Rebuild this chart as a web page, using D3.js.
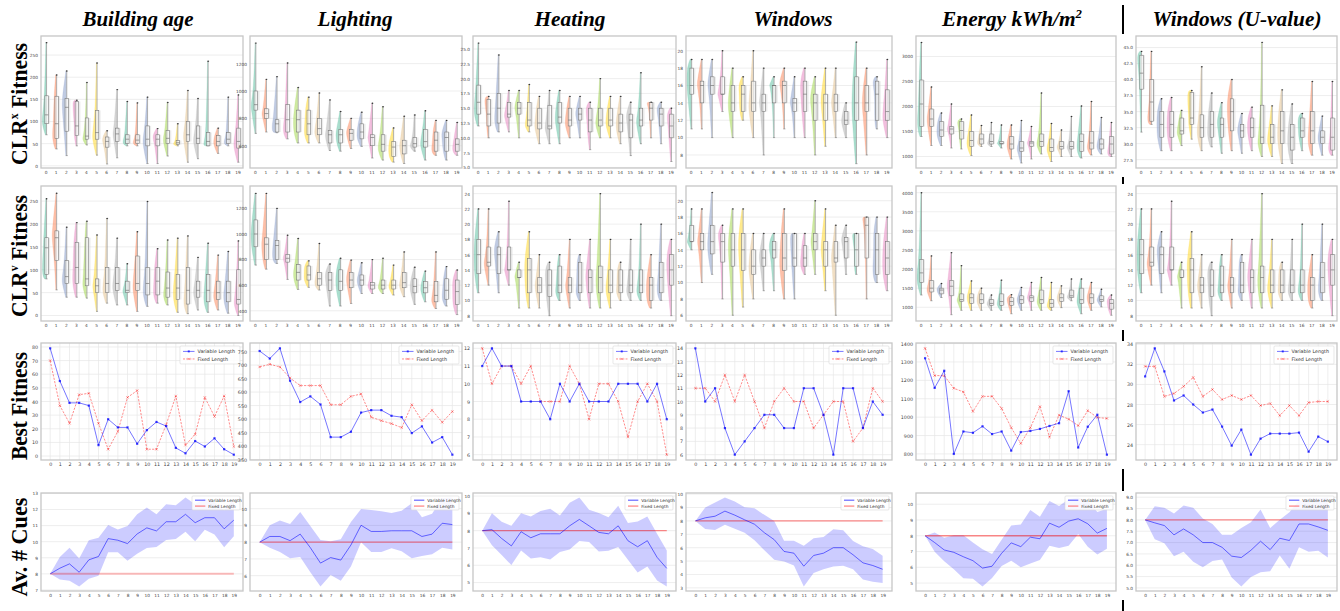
<!DOCTYPE html>
<html>
<head>
<meta charset="utf-8">
<script src="https://cdn.jsdelivr.net/npm/d3@7"></script>
<style>
  body { margin: 0; background: #fff; overflow: hidden; }
  .row-title { font-family: "Liberation Serif", "Times New Roman", serif; font-weight: bold; font-size: 24px; }
  .col-title { font-family: "Liberation Serif", "Times New Roman", serif; font-weight: bold; font-style: italic; font-size: 20px; }
  .tk text { font-family: "DejaVu Sans", sans-serif; fill: #444; }
  .leg { font-family: "DejaVu Sans", sans-serif; fill: #333; }
</style>
</head>
<body>
<svg width="1340" height="611"></svg>
<script>
// generations 0..19
const cats = [0,1,2,3,4,5,6,7,8,9,10,11,12,13,14,15,16,17,18,19];

// violin rows: per generation [low whisker, q1, median, q3, high whisker]
const ageX = [[70,95,115,158,278],[38,62,95,157,205],[23,78,132,152,214],[45,68,90,145,148],[47,60,67,108,188],
  [24,60,75,125,232],[4,42,55,65,79],[18,55,72,85,172],[45,50,60,70,145],[45,50,58,70,142],
  [5,45,60,90,155],[5,45,60,70,84],[22,50,62,80,143],[45,48,52,57,95],[8,55,70,100,170],
  [16,50,62,90,152],[45,45,55,75,236],[28,45,55,68,85],[45,50,60,75,155],[8,40,55,85,160]];
const lightX = [[690,860,900,1000,1350],[700,800,835,870,1085],[695,700,760,790,1105],[650,700,790,900,1205],[620,700,790,860,1025],
  [620,680,760,860,955],[620,680,725,800,985],[565,620,680,710,935],[560,620,680,720,850],[580,640,690,720,800],
  [595,650,700,760,845],[510,600,660,680,910],[495,560,610,680,885],[480,520,590,630,730],[470,540,600,640,815],
  [560,590,615,660,825],[495,590,630,720,855],[530,560,640,700,785],[495,560,660,700,785],[530,560,610,650,770]];
const heatX = [[12,14,16,18.9,26],[10,12,14,16.5,17],[11,12.5,15,17.5,24],[11,13.5,14,16,18],[10,14,15,16,18],
  [11,12,13,16,19],[9,11.5,12.5,15,17],[9,11.5,12,15.5,18],[9,12.5,13.5,16,18],[10,12,13,15,17],
  [10,13,14,15,17],[8,11,13,15,16],[10,12,13,15,20],[10,12,13,15,17],[9,11,12.5,14,17],
  [7,10,13,14,16],[9,12,13,15,21],[10,13,15,16,16],[9,12,14,15,16],[6,10,12,14,15]];
const winX = [[11,15,16,18,19],[11,14,16,16.5,19],[10,15,16,17,19],[13,15,15,17,20],[10,13,14,16,18],
  [12,13,15,16,17],[10,13,14,16.5,20],[8,13,14,15,18],[10,14,16,16,17],[11,14,16,16.5,18],
  [10,13,14,14.5,17],[10,13,15,16.5,18],[8,12,14,15,17],[9,12,14,15,18],[10,13,14,15,18],
  [10,11.5,12,13,14],[7,12,14,17,21],[8,13,14,16,18],[11,12,15,16.5,17],[10,12,13,15.5,19]];
const energyX = [[1400,1600,2050,2530,3280],[1220,1600,1750,1950,2390],[1220,1400,1530,1700,1870],[1170,1450,1550,1600,2050],[1150,1350,1520,1700,1750],
  [1020,1200,1320,1500,1830],[1200,1250,1350,1450,1620],[1200,1250,1300,1450,1680],[1170,1250,1260,1300,1630],[950,1150,1250,1400,1630],
  [870,1100,1170,1300,1720],[950,1200,1270,1300,1600],[1050,1200,1300,1450,2270],[900,1100,1180,1350,1660],[1000,1150,1200,1300,1530],
  [1000,1150,1200,1300,1800],[970,1100,1300,1450,2010],[1030,1150,1270,1500,2100],[1050,1150,1250,1350,1780],[1000,1050,1250,1400,1680]];
const uvalX = [[31.8,38.5,41,43.8,44.4],[33,33.5,36.5,40,44.4],[28.9,31,33,35,37],[28.9,31,33,35,37.2],[29.7,31.5,32,34,35.2],
  [30.7,33,34,38,38.3],[28.9,31,32.5,34.5,42],[29.5,31,33,35,37.9],[28.5,31,33,34,36.4],[28.9,32,35,37,40],
  [28.5,31,32,33,34.7],[28.9,31,32.5,34,35.7],[28,30,31,36,45.8],[28,30,31,33,35.9],[26.9,30,32,35,38.4],
  [26.9,29,31,33,36.2],[28.9,31,32,34,34.7],[28.2,30,32,35,39.7],[28.2,30,31,32,34.3],[28.2,29,31,34,39.7]];

const ageV = [[80,90,148,170,255],[56,120,170,185,267],[40,70,85,120,193],[40,70,105,160,203],[38,65,80,170,206],
  [9,50,65,80,176],[27,50,70,105,212],[23,55,70,105,169],[23,50,55,75,113],[9,55,70,130,183],
  [20,45,70,105,249],[27,45,75,105,146],[23,40,60,95,165],[7,35,60,90,169],[4,25,55,105,174],
  [12,40,55,75,127],[7,30,55,90,158],[12,35,50,75,132],[5,30,50,75,140],[0,25,35,100,163]];
const lightV = [[757,900,1000,1110,1317],[725,800,920,970,1317],[770,800,910,950,1200],[645,780,810,840,990],[567,640,700,760,965],
  [583,640,680,750,790],[562,600,650,700,926],[437,560,640,700,765],[437,560,630,720,810],[457,580,640,700,796],
  [535,600,640,680,775],[535,570,600,620,800],[535,570,600,640,810],[523,570,600,640,757],[510,580,620,700,860],
  [450,540,590,650,740],[470,540,580,630,710],[418,470,520,630,860],[437,490,560,650,745],[370,450,550,640,718]];
const heatV = [[11,13.5,16,18,22],[12,14.5,15,17,22],[11,13.5,16,17,19],[12,14,14,17,23],[9,13,13,14,15],
  [9,11,14,15.5,19],[9,11,12,13,16],[8,10.5,12,14,15],[10,11,12,14.5,16],[9,11,12,13,18],
  [10,11,12,15,16],[9,11,13,14,18],[9,11,13,14.5,24],[9,11,12,14,18],[10,11,12,14,15],
  [10,11,12,14,18],[10,11,12,14,20],[9,10,12,13,16],[10,11,13,15,20],[8,12,14,16,18]];
const winV = [[14,15,15,17,19],[10,14,15,16,19],[11,13.5,15,17,21],[8,12.5,15,16,17],[6,12,14,16,19],
  [7,11.5,14,16,19],[8,11,12,14,16],[9,12,13,14,16],[9,13,14,15,16],[8,11.5,13,16,19],
  [8,12,13,16,16],[11,12,13,14.5,16],[11,14,15,16,20],[9,12,14,15,19],[6,12.5,13,15,17],
  [11,13,15,15.5,17],[11,12,14,16,16],[8,13,17,18,18],[10,11,14,16,18],[9,11,13,15,18]];
const energyV = [[1320,1650,1900,2250,4000],[1170,1400,1500,1700,2345],[1255,1350,1450,1500,1620],[805,1300,1550,1700,2430],[920,1150,1200,1350,2090],
  [920,1100,1250,1350,1690],[920,1100,1200,1350,1500],[920,1050,1100,1200,1320],[920,1050,1150,1350,1710],[830,1050,1150,1250,1330],
  [920,1100,1200,1300,1520],[920,1150,1250,1300,1650],[920,1100,1200,1450,1780],[920,1000,1100,1200,1650],[990,1150,1250,1350,1560],
  [1170,1250,1300,1450,1740],[830,1100,1200,1500,1740],[920,1100,1250,1350,1650],[1010,1150,1200,1300,1470],[790,950,1100,1200,1320]];
// the source figure repeats the heating panel here
const uvalV = heatV;

// best fitness per generation
const ageBestVar = [79,55,39,39,37,8,27,21,21,9,19,25,22,6,2,11,7,13,5,1];
const ageBestFix = [70,37,24,45,46,24,5,18,43,48,5,5,23,44,8,16,43,29,44,7];
const lightBestVar = [752,724,762,642,563,584,554,433,433,453,524,533,533,512,507,448,473,413,433,368];
const lightBestFix = [693,703,693,652,624,624,624,553,553,584,593,507,494,483,468,553,494,533,488,528];
const heatBestVar = [11,12,11,11,9,9,9,8,10,9,10,9,9,9,10,10,10,9,10,8];
const heatBestFix = [12,10,11,11,10,11,9,9,9,11,10,8,10,10,9,7,9,10,9,6];
const winBestVar = [14,10,11,8,6,7,8,9,9,8,8,11,11,9,6,11,11,8,10,9];
const winBestFix = [11,11,10,12,10,12,10,8,10,11,10,10,8,9,10,10,7,8,11,10];
const energyBestVar = [1320,1159,1252,800,922,915,950,908,922,818,919,925,936,952,967,1141,835,948,1013,796];
const energyBestFix = [1374,1226,1225,1157,1137,1031,1113,1113,1047,943,857,943,1057,892,1011,989,954,1035,998,993];
const uvalBestVar = [30.8,33.6,31.3,28.4,28.9,28.0,27.2,27.5,25.8,23.9,25.5,23.0,24.6,25.1,25.1,25.1,25.2,23.3,24.8,24.3];
const uvalBestFix = [31.8,31.8,28.8,29.1,29.8,30.7,28.8,29.5,28.5,28.9,28.5,28.9,27.9,28.1,26.9,27.9,26.9,28.2,28.3,28.3];

// average number of cues: mean and band (low / high) for variable length
const ageCueMean = [8.0,8.35,8.62,8.1,8.87,9.08,10.19,10.09,9.88,10.48,10.86,10.67,11.24,11.24,11.7,11.18,11.49,11.49,10.8,11.34];
const ageCueLo = [8.0,7.65,7.57,7.21,7.7,7.88,9.35,9.35,8.81,9.25,9.6,9.67,10.11,10.17,10.61,10.02,10.74,10.44,9.65,10.34];
const ageCueHi = [8.0,9.04,9.62,8.95,10.09,10.25,11.03,10.76,10.97,11.7,12.12,11.7,12.33,12.27,12.75,12.33,12.69,12.43,11.95,12.64];
const lightCueMean = [8.0,8.34,8.34,8.09,8.48,7.67,6.75,7.08,6.93,7.83,9.01,8.64,8.64,8.68,8.68,8.68,8.34,8.48,9.13,9.05];
const lightCueLo = [8.0,7.67,7.42,7.04,7.12,6.2,5.35,6.04,5.7,6.55,8.0,7.42,7.42,7.64,7.46,7.04,7.18,7.28,7.67,7.56];
const lightCueHi = [8.0,9.01,9.29,9.09,9.8,8.96,8.13,8.05,8.17,9.21,9.98,9.92,9.84,9.74,9.88,10.32,9.49,9.7,10.63,10.67];
const heatCueMean = [8.0,8.06,7.55,7.12,7.94,7.59,7.82,7.82,7.82,8.28,8.65,8.28,7.9,7.82,8.28,7.42,7.07,7.42,6.46,5.82];
const heatCueLo = [8.0,7.15,6.59,6.01,6.85,6.39,6.46,6.34,6.76,6.91,7.4,7.34,6.8,6.84,7.05,6.32,5.58,5.93,5.12,4.77];
const heatCueHi = [8.0,9.0,8.52,8.28,9.0,8.82,9.13,9.27,8.88,9.61,9.92,9.21,9.02,8.78,9.44,8.44,8.53,8.82,7.82,6.85];
const winCueMean = [8.0,8.23,8.35,8.73,8.43,8.08,7.75,7.12,6.6,5.72,5.59,4.62,5.42,5.59,6.0,6.0,5.47,4.87,4.67,4.39];
const winCueLo = [8.0,7.4,7.32,7.72,7.42,7.12,6.55,5.8,5.1,4.97,4.67,3.1,4.12,4.4,4.6,4.65,4.4,3.62,3.45,3.37];
const winCueHi = [8.0,9.0,9.37,9.75,9.45,9.02,8.95,8.45,8.0,6.52,6.52,6.15,6.7,6.8,7.37,7.3,6.5,6.1,5.9,5.4];
const energyCueMean = [8.0,7.57,7.1,6.95,6.67,6.42,5.95,6.07,6.89,7.55,7.31,7.91,7.81,8.8,8.54,8.93,9.08,8.76,8.17,8.47];
const energyCueLo = [8.0,6.99,6.39,5.88,5.3,5.28,4.78,5.32,6.09,6.42,6.01,6.24,6.46,7.36,7.23,7.36,8.11,7.31,6.82,7.18];
const energyCueHi = [8.0,8.21,7.87,8.04,8.04,7.57,7.14,6.84,7.74,8.65,8.71,9.64,9.21,10.21,9.89,10.32,10.43,10.21,9.51,9.72];
const uvalCueMean = [8.0,7.87,7.75,7.34,7.6,7.34,7.0,7.0,6.79,6.4,6.34,6.66,7.06,6.69,7.19,7.09,7.82,7.82,7.69,7.54];
const uvalCueLo = [8.0,7.15,6.97,6.4,6.6,6.15,5.91,6.19,6.25,5.46,5.06,5.48,5.69,5.73,6.43,5.85,6.79,6.6,6.64,6.34];
const uvalCueHi = [8.0,8.6,8.54,8.28,8.64,8.54,8.06,7.82,7.34,7.34,7.64,7.9,8.46,7.64,8.01,8.34,8.84,8.94,8.94,8.99];
const fixedCues = [8,8,8,8,8,8,8,8,8,8,8,8,8,8,8,8,8,8,8,8];

// tick labels
const ageTicks = [0,50,100,150,200,250];
const lightXTicks = [600,800,1000,1200];
const lightVTicks = [400,600,800,1000,1200];
const heatXTicks = [5,7.5,10,12.5,15,17.5,20,22.5,25];
const heatVTicks = [8,10,12,14,16,18,20,22,24];
const winXTicks = [8,10,12,14,16,18,20];
const winVTicks = [6,8,10,12,14,16,18,20];
const energyXTicks = [1000,1500,2000,2500,3000];
const energyVTicks = [1000,1500,2000,2500,3000,3500,4000];
const uvalXTicks = [27.5,30,32.5,35,37.5,40,42.5,45];

const columnTitles = ["Building age", "Lighting", "Heating", "Windows", "Energy kWh/m", "Windows (U-value)"];
const rowTitles = ["CLR", "CLR", "Best Fitness", "Av. # Cues"];
const legendNames = ["Variable Length", "Fixed Length"];

const set2 = ["#66c2a5","#fc8d62","#8da0cb","#e78ac3","#a6d854","#ffd92f","#e5c494","#b3b3b3"];

const svg = d3.select("svg");
const colX = [[41,243],[250,462],[473,676],[686,892],[916,1116],[1136,1337]];
const rowY = [[36,168],[186,321],[343,460],[493,591]];
const f0 = d3.format("d"), f1 = d3.format(".1f");

svg.append("rect").attr("width",1340).attr("height",611).attr("fill","#fff");
svg.append("line").attr("x1",1123).attr("x2",1123).attr("y1",5).attr("y2",611)
  .attr("stroke","#000").attr("stroke-width",2);

let clipId = 0;
function panel(col, row) {
  const [x0,x1] = colX[col], [y0,y1] = rowY[row];
  const g = svg.append("g");
  // each sub-figure sits on its own white canvas (hides the divider behind it)
  if (col === 5) g.append("rect").attr("x",1122).attr("y",y0-2).attr("width",1340-1122).attr("height",y1-y0+11).attr("fill","#fff");
  g.append("rect").attr("x",x0).attr("y",y0).attr("width",x1-x0).attr("height",y1-y0).attr("fill","#fff");
  const id = "clip" + (clipId++);
  g.append("clipPath").attr("id",id).append("rect")
    .attr("x",x0).attr("y",y0).attr("width",x1-x0).attr("height",y1-y0);
  const inner = g.append("g").attr("clip-path",`url(#${id})`);
  return {g, inner, x0, x1, y0, y1};
}
function frame(p) {
  p.g.append("rect").attr("x",p.x0).attr("y",p.y0).attr("width",p.x1-p.x0).attr("height",p.y1-p.y0)
    .attr("fill","none").attr("stroke","#c6c6c6").attr("stroke-width",1.3);
}
function axes(p, x, y, ticks, fmt, fs) {
  p.g.append("g").attr("class","tk").attr("transform",`translate(${p.x0},0)`)
    .call(d3.axisLeft(y).tickValues(ticks).tickFormat(fmt).tickSize(0).tickPadding(3))
    .call(a => a.select(".domain").remove())
    .selectAll("text").attr("font-size",fs);
  p.g.append("g").attr("class","tk").attr("transform",`translate(0,${p.y1})`)
    .call(d3.axisBottom(x).tickValues(cats).tickFormat(f0).tickSize(0).tickPadding(3))
    .call(a => a.select(".domain").remove())
    .selectAll("text").attr("font-size",fs);
}
function hgrid(p, y, ticks) {
  p.inner.selectAll(null).data(ticks).join("line")
    .attr("x1",p.x0).attr("x2",p.x1).attr("y1",d=>y(d)).attr("y2",d=>y(d))
    .attr("stroke","#e6e6e6").attr("stroke-width",0.7);
}

// half-violin outline from the five summary values
function violinNodes(s) {
  const [lo,q1,md,q3,hi] = s;
  const span = Math.max(hi - lo, 1e-9);
  const g = v => 1 / Math.max(v, span * 0.07);
  const d = [g(q1-lo), g(md-q1), g(q3-md), g(hi-q3)];
  const w = [d[0]*0.2, (d[0]+d[1])/2, (d[1]+d[2])/2, (d[2]+d[3])/2, d[3]*0.2];
  const m = d3.max(w);
  return s.map((v,i) => ({v, w: w[i]/m}));
}

function violinPanel(col, row, data, ticks, domain, fmt) {
  const p = panel(col, row);
  const x = d3.scaleBand().domain(cats).range([p.x0,p.x1]).padding(0);
  const y = d3.scaleLinear().domain(domain).range([p.y1,p.y0]);
  hgrid(p, y, ticks);
  const bw = x.bandwidth();
  data.forEach((s,i) => {
    const cx = x(i) + bw/2;
    const c = set2[i % 8];
    const area = d3.area().y(d => y(d.v)).x0(cx).x1(d => cx - d.w*bw*0.42).curve(d3.curveBasis);
    p.inner.append("path").attr("d", area(violinNodes(s)))
      .attr("fill", c).attr("fill-opacity",0.55).attr("stroke", c).attr("stroke-opacity",0.6).attr("stroke-width",0.3);
    // light cloud to the right of the box
    p.inner.append("rect").attr("x",cx+bw*0.18).attr("width",bw*0.22)
      .attr("y",y(s[3])).attr("height",Math.max(0.5,y(s[1])-y(s[3])))
      .attr("fill","#d8d8d8").attr("fill-opacity",0.5);
    const wx = cx + bw*0.05;
    p.inner.append("line").attr("x1",wx).attr("x2",wx).attr("y1",y(s[0])).attr("y2",y(s[4]))
      .attr("stroke","#7a7a7a").attr("stroke-width",0.6);
    [s[0], s[4]].forEach(v => p.inner.append("line")
      .attr("x1",wx-bw*0.1).attr("x2",wx+bw*0.1).attr("y1",y(v)).attr("y2",y(v))
      .attr("stroke","#7a7a7a").attr("stroke-width",0.6));
    p.inner.append("rect").attr("x",cx-bw*0.12).attr("width",bw*0.34)
      .attr("y",y(s[3])).attr("height",Math.max(0.5,y(s[1])-y(s[3])))
      .attr("fill","#fff").attr("fill-opacity",0.6).attr("stroke","#7a7a7a").attr("stroke-width",0.6);
    p.inner.append("line").attr("x1",cx-bw*0.12).attr("x2",cx+bw*0.22).attr("y1",y(s[2])).attr("y2",y(s[2]))
      .attr("stroke","#666").attr("stroke-width",0.6);
    p.inner.append("circle").attr("cx",wx).attr("cy",y(s[4])).attr("r",0.7).attr("fill","#333");
  });
  axes(p, x, y, ticks, fmt, 4.3);
  frame(p);
}

function legend(p, kind, fs, w, h) {
  const lx = p.x1 - w - 3, ly = p.y0 + 3;
  const g = p.g.append("g");
  g.append("rect").attr("x",lx).attr("y",ly).attr("width",w).attr("height",h).attr("rx",1)
    .attr("fill","#fff").attr("fill-opacity",0.85).attr("stroke","#d8d8d8").attr("stroke-width",0.6);
  legendNames.forEach((name,i) => {
    const yy = ly + h*(i === 0 ? 0.3 : 0.72);
    const col = i === 0 ? "#0000ff" : "#ff0000";
    g.append("line").attr("x1",lx+3).attr("x2",lx+3+fs*2.4).attr("y1",yy).attr("y2",yy)
      .attr("stroke",col).attr("stroke-opacity",i === 0 ? 0.6 : 0.5)
      .attr("stroke-width", kind === "best" ? 0.9 : 1.2)
      .attr("stroke-dasharray", kind === "best" && i === 1 ? "2,1.2" : null);
    if (kind === "best") {
      if (i === 0) g.append("rect").attr("x",lx+3+fs*1.2-1).attr("y",yy-1).attr("width",2).attr("height",2).attr("fill","#0000ff").attr("fill-opacity",0.7);
      else g.append("path").attr("transform",`translate(${lx+3+fs*1.2},${yy})`)
        .attr("d", d3.symbol(d3.symbolX, 4)()).attr("stroke","#ff0000").attr("stroke-opacity",0.6).attr("stroke-width",0.6).attr("fill","none");
    }
    g.append("text").attr("class","leg").attr("x",lx+5+fs*2.6).attr("y",yy).attr("dy","0.35em")
      .attr("font-size",fs).text(name);
  });
}

function bestPanel(col, vari, fixed, ticks, fmt) {
  const p = panel(col, 2);
  const x = d3.scaleLinear().domain([-0.95,19.95]).range([p.x0,p.x1]);
  const ext = d3.extent(vari.concat(fixed)), pad = (ext[1]-ext[0])*0.05;
  const y = d3.scaleLinear().domain([ext[0]-pad, ext[1]+pad]).range([p.y1,p.y0]);
  hgrid(p, y, ticks);
  p.inner.selectAll(null).data(cats).join("line")
    .attr("x1",d=>x(d)).attr("x2",d=>x(d)).attr("y1",p.y0).attr("y2",p.y1)
    .attr("stroke","#e6e6e6").attr("stroke-width",0.7);
  const line = d3.line().x((d,i)=>x(i)).y(d=>y(d));
  p.inner.append("path").attr("d",line(fixed)).attr("fill","none")
    .attr("stroke","#ff0000").attr("stroke-opacity",0.5).attr("stroke-width",0.9).attr("stroke-dasharray","2.2,1.3");
  p.inner.selectAll(null).data(fixed).join("path")
    .attr("transform",(d,i)=>`translate(${x(i)},${y(d)})`).attr("d", d3.symbol(d3.symbolX, 5)())
    .attr("fill","none").attr("stroke","#ff0000").attr("stroke-opacity",0.6).attr("stroke-width",0.6);
  p.inner.append("path").attr("d",line(vari)).attr("fill","none")
    .attr("stroke","#0000ff").attr("stroke-opacity",0.6).attr("stroke-width",0.9);
  p.inner.selectAll(null).data(vari).join("rect")
    .attr("x",(d,i)=>x(i)-1.1).attr("y",d=>y(d)-1.1).attr("width",2.2).attr("height",2.2)
    .attr("fill","#0000ff").attr("fill-opacity",0.75);
  axes(p, x, y, ticks, fmt, 4.8);
  legend(p, "best", 4.8, 60, 18);
  frame(p);
}

function cuePanel(col, mean, lo, hi, ticks, fmt) {
  const p = panel(col, 3);
  const x = d3.scaleLinear().domain([-0.95,19.95]).range([p.x0,p.x1]);
  const ext = [d3.min(lo.concat(fixedCues)), d3.max(hi.concat(fixedCues))], pad = (ext[1]-ext[0])*0.05;
  const y = d3.scaleLinear().domain([ext[0]-pad, ext[1]+pad]).range([p.y1,p.y0]);
  hgrid(p, y, ticks);
  const band = d3.area().x((d,i)=>x(i)).y0((d,i)=>y(lo[i])).y1((d,i)=>y(hi[i]));
  p.inner.append("path").attr("d",band(mean)).attr("fill","#0000ff").attr("fill-opacity",0.2);
  const line = d3.line().x((d,i)=>x(i)).y(d=>y(d));
  p.inner.append("path").attr("d",line(fixedCues)).attr("fill","none")
    .attr("stroke","#ff0000").attr("stroke-opacity",col === 0 ? 0.25 : 0.45).attr("stroke-width",col === 0 ? 2 : 1.4);
  p.inner.append("path").attr("d",line(mean)).attr("fill","none")
    .attr("stroke","#0000ff").attr("stroke-opacity",0.6).attr("stroke-width",0.9);
  axes(p, x, y, ticks, fmt, 4.3);
  legend(p, "cue", 4.3, 48, 14);
  frame(p);
}

// row 1 and 2: CLR fitness distributions
violinPanel(0, 0, ageX, ageTicks, [-5,293], f0);
violinPanel(1, 0, lightX, lightXTicks, [437,1402], f0);
violinPanel(2, 0, heatX, heatXTicks, [4.9,27.2], f1);
violinPanel(3, 0, winX, winXTicks, [6.5,21.7], f0);
violinPanel(4, 0, energyX, energyXTicks, [770,3410], f0);
violinPanel(5, 0, uvalX, uvalXTicks, [26.2,46.8], f1);

violinPanel(0, 1, ageV, ageTicks, [-12,283], f0);
violinPanel(1, 1, lightV, lightVTicks, [320,1375], f0);
violinPanel(2, 1, heatV, heatVTicks, [7.3,25], f0);
violinPanel(3, 1, winV, winVTicks, [5.3,21.8], f0);
violinPanel(4, 1, energyV, energyVTicks, [640,4175], f0);
violinPanel(5, 1, uvalV, heatVTicks, [7.3,25], f0);

// row 3: best fitness
bestPanel(0, ageBestVar, ageBestFix, [0,10,20,30,40,50,60,70,80], f0);
bestPanel(1, lightBestVar, lightBestFix, [350,400,450,500,550,600,650,700,750], f0);
bestPanel(2, heatBestVar, heatBestFix, [6,7,8,9,10,11,12], f0);
bestPanel(3, winBestVar, winBestFix, [6,7,8,9,10,11,12,13,14], f0);
bestPanel(4, energyBestVar, energyBestFix, [800,900,1000,1100,1200,1300,1400], f0);
bestPanel(5, uvalBestVar, uvalBestFix, [24,26,28,30,32,34], f0);

// row 4: average number of cues
cuePanel(0, ageCueMean, ageCueLo, ageCueHi, [7,8,9,10,11,12,13], f0);
cuePanel(1, lightCueMean, lightCueLo, lightCueHi, [6,7,8,9,10], f0);
cuePanel(2, heatCueMean, heatCueLo, heatCueHi, [5,6,7,8,9,10], f0);
cuePanel(3, winCueMean, winCueLo, winCueHi, [3,4,5,6,7,8,9,10], f0);
cuePanel(4, energyCueMean, energyCueLo, energyCueHi, [5,6,7,8,9,10], f0);
cuePanel(5, uvalCueMean, uvalCueLo, uvalCueHi, [5,5.5,6,6.5,7,7.5,8,8.5,9], f1);

// column titles
const titleLen = [111, 75, 71, 79, 140, 169];
const titleX = [138, 355, 570, 793, 1012, 1237];
columnTitles.forEach((t,i) => {
  const tx = svg.append("text").attr("class","col-title").attr("x",titleX[i]).attr("y",26)
    .attr("text-anchor","middle").attr("textLength",titleLen[i]).attr("lengthAdjust","spacingAndGlyphs").text(t);
  if (i === 4) tx.append("tspan").attr("dy",-8).attr("font-size",12).text("2");
});

// row titles (rotated)
const rowLen = [122, 122, 108, 99];
const rowSup = ["x", "v", null, null];
rowTitles.forEach((t,i) => {
  const cy = [104, 256, 406, 547][i];
  const tx = svg.append("text").attr("class","row-title")
    .attr("transform",`translate(27,${cy}) rotate(-90)`).attr("text-anchor","middle")
    .attr("textLength",rowLen[i]).attr("lengthAdjust","spacingAndGlyphs");
  tx.append("tspan").text(t);
  if (rowSup[i]) {
    tx.append("tspan").attr("dy",-9).attr("font-size",13).text(rowSup[i]);
    tx.append("tspan").attr("dy",9).text(" Fitness");
  }
});
</script>
</body>
</html>
